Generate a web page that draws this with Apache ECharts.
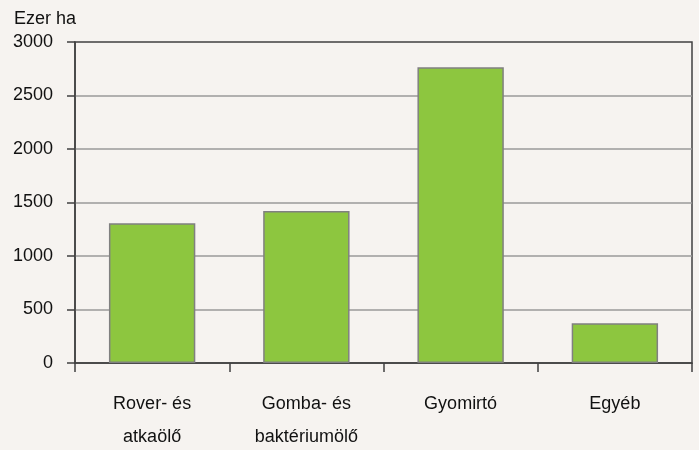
<!DOCTYPE html>
<html><head><meta charset="utf-8">
<script src="https://cdn.jsdelivr.net/npm/echarts@6/dist/echarts.min.js"></script>
<style>html,body{margin:0;padding:0;background:#f6f3f0}#c{width:699px;height:450px}</style>
</head><body><div id="c"></div>
<script>
const categories = ["Rover- és\natkaölő", "Gomba- és\nbaktériumölő", "Gyomirtó", "Egyéb"];
const values = [1305, 1420, 2765, 372];
const yTicks = [0, 500, 1000, 1500, 2000, 2500, 3000];
const unitLabel = "Ezer ha";

const chart = echarts.init(document.getElementById('c'));
const font = "'Liberation Sans', Arial, sans-serif";
chart.setOption({
  backgroundColor: '#f6f3f0',
  animation: false,
  title: { text: unitLabel, left: 9, top: 5, textStyle: { fontFamily: font, fontSize: 18, fontWeight: 'normal', color: '#111' } },
  grid: { left: 75, right: 7, top: 42, bottom: 87, outerBoundsMode: 'none', containLabel: false, show: true, borderColor: '#404040', borderWidth: 1.5, backgroundColor: 'transparent' },
  xAxis: {
    type: 'category', data: categories,
    axisLine: { lineStyle: { color: '#404040', width: 1.5 } },
    axisTick: { show: true, length: 9, lineStyle: { color: '#404040', width: 1.5 } },
    axisLabel: { margin: 25, lineHeight: 33, fontFamily: font, fontSize: 18, color: '#111' }
  },
  yAxis: {
    type: 'value', min: yTicks[0], max: yTicks[yTicks.length - 1], interval: 500,
    axisLine: { show: true, lineStyle: { color: '#404040', width: 1.5 } },
    axisTick: { show: true, length: 8, lineStyle: { color: '#404040', width: 1.5 } },
    axisLabel: { margin: 22, fontFamily: font, fontSize: 18, color: '#111', formatter: v => String(v) },
    splitLine: { show: true, showMinLine: false, showMaxLine: false, lineStyle: { color: '#9a9a9a', width: 1.5 } }
  },
  series: [{
    type: 'bar', data: values, barWidth: '56%',
    itemStyle: { color: '#8dc63f', borderColor: '#808080', borderWidth: 1.5 }
  }]
});
</script></body></html>
